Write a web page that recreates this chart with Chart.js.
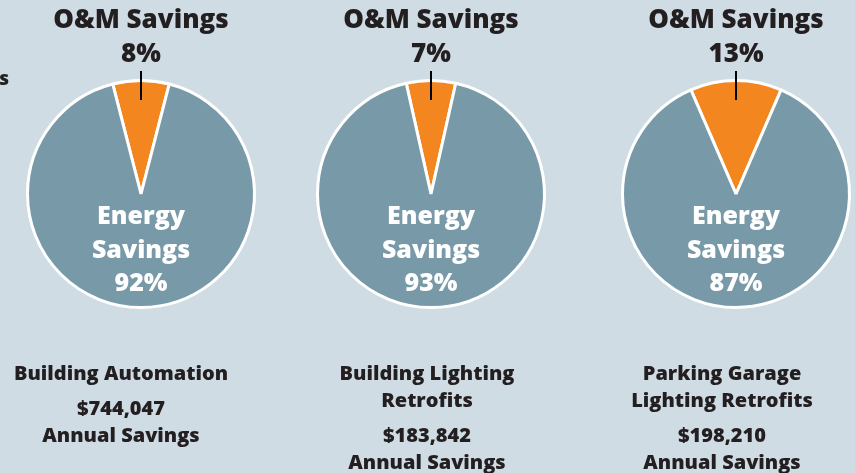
<!DOCTYPE html>
<html>
<head>
<meta charset="utf-8">
<script src="https://cdn.jsdelivr.net/npm/chart.js@4"></script>
<style>
  html, body { margin: 0; padding: 0; }
  body { width: 855px; height: 473px; background: #cfdce4; position: relative; overflow: hidden; }
  .col { position: absolute; top: 0; width: 284px; height: 473px; }
</style>
</head>
<body>
<div class="col" style="left:-1px"><canvas id="pie0"></canvas></div>
<div class="col" style="left:289px"><canvas id="pie1"></canvas></div>
<div class="col" style="left:594px"><canvas id="pie2"></canvas></div>
<script>
const projects = [['Building Automation'], ['Building Lighting', 'Retrofits'], ['Parking Garage', 'Lighting Retrofits']];
const omPct = [8, 7, 13];
const energyPct = [92, 93, 87];
const annualSavings = [744047, 183842, 198210];

// captions under each pie are not centred on the pie itself
const captionShift = [-20, -4, -14];

const dark = '#231f20';
const font = '"Open Sans", "DejaVu Sans", sans-serif';

const labelPlugin = {
  id: 'labels',
  afterDraw(chart) {
    const i = chart.options.plugins.labels.index;
    const ctx = chart.ctx;
    const cx = chart.width / 2;
    ctx.save();
    ctx.textAlign = 'center';
    ctx.textBaseline = 'middle';

    // top label + leader line
    ctx.fillStyle = dark;
    ctx.font = '800 26px ' + font;
    ctx.fillText('O&M Savings', cx, 21);
    ctx.fillText(omPct[i] + '%', cx, 55);
    ctx.strokeStyle = '#000';
    ctx.lineWidth = 2;
    ctx.beginPath();
    ctx.moveTo(cx, 71);
    ctx.lineTo(cx, 100);
    ctx.stroke();

    // label inside the energy slice
    ctx.fillStyle = '#ffffff';
    ctx.font = '800 25px ' + font;
    ctx.fillText('Energy', cx, 217);
    ctx.fillText('Savings', cx, 251);
    ctx.fillText(energyPct[i] + '%', cx, 284);

    // project name and savings below
    const tx = cx + captionShift[i];
    ctx.fillStyle = dark;
    ctx.font = '800 20px ' + font;
    let y = 374;
    projects[i].forEach(function (line) {
      ctx.fillText(line, tx, y);
      y += 27;
    });
    y += 8;
    ctx.fillText('$' + annualSavings[i].toLocaleString('en-US'), tx, y);
    ctx.fillText('Annual Savings', tx, y + 27);

    if (i === 0) {
      ctx.textAlign = 'right';
      ctx.font = '800 19px ' + font;
      ctx.fillText('Savings', 10, 80);
    }
    ctx.restore();
  }
};

for (let i = 0; i < omPct.length; i++) {
  new Chart(document.getElementById('pie' + i), {
    type: 'pie',
    plugins: [labelPlugin],
    data: {
      labels: ['O&M Savings', 'Energy Savings'],
      datasets: [{
        data: [omPct[i], energyPct[i]],
        backgroundColor: ['#f3861f', '#789aa8'],
        borderColor: '#ffffff',
        borderWidth: 3,
      }]
    },
    options: {
      responsive: true,
      maintainAspectRatio: false,
      animation: false,
      rotation: -omPct[i] * 3.6 / 2,
      layout: {
        padding: { top: 79, bottom: 164, left: 27, right: 27 }
      },
      plugins: {
        legend: { display: false },
        tooltip: { enabled: false },
        labels: { index: i }
      }
    }
  });
}
</script>
</body>
</html>
